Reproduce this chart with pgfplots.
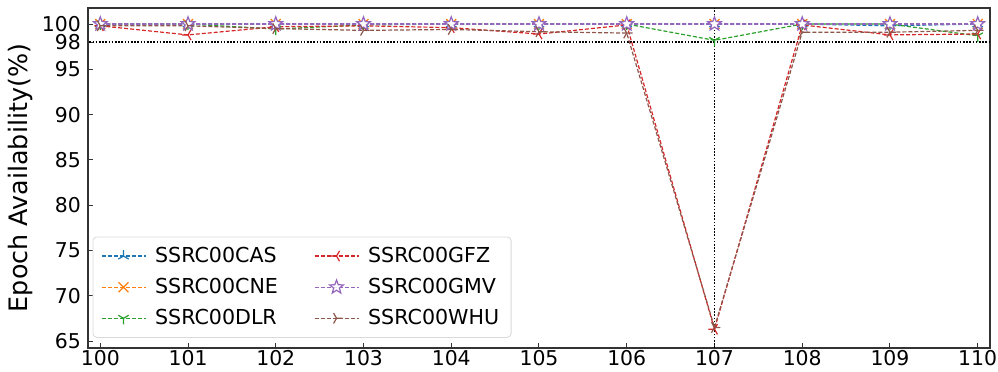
\documentclass[border=0pt]{standalone}
\usepackage{fontspec}
\setmainfont{DejaVu Sans}
\usepackage{pgfplots}
\pgfplotsset{compat=1.18}
\usetikzlibrary{plotmarks}
\definecolor{c0}{HTML}{1F77B4}
\definecolor{c1}{HTML}{FF7F0E}
\definecolor{c2}{HTML}{2CA02C}
\definecolor{c3}{HTML}{D62728}
\definecolor{c4}{HTML}{9467BD}
\definecolor{c5}{HTML}{8C564B}
\pgfdeclareplotmark{ostar}{%
 \pgfpathmoveto{\pgfpointpolar{90}{\pgfplotmarksize}}%
 \pgfpathlineto{\pgfpointpolar{126}{0.42\pgfplotmarksize}}%
 \pgfpathlineto{\pgfpointpolar{162}{\pgfplotmarksize}}%
 \pgfpathlineto{\pgfpointpolar{198}{0.42\pgfplotmarksize}}%
 \pgfpathlineto{\pgfpointpolar{234}{\pgfplotmarksize}}%
 \pgfpathlineto{\pgfpointpolar{270}{0.42\pgfplotmarksize}}%
 \pgfpathlineto{\pgfpointpolar{306}{\pgfplotmarksize}}%
 \pgfpathlineto{\pgfpointpolar{342}{0.42\pgfplotmarksize}}%
 \pgfpathlineto{\pgfpointpolar{18}{\pgfplotmarksize}}%
 \pgfpathlineto{\pgfpointpolar{54}{0.42\pgfplotmarksize}}%
 \pgfpathclose\pgfusepathqfillstroke}
\begin{document}
\begin{tikzpicture}
\begin{axis}[
  at={(0,0)}, anchor=south west,
  scale only axis, width=451pt, height=170pt,
  xmin=99.86, xmax=110.14, ymin=64.23, ymax=101.77,
  xtick={100,101,...,110},
  ytick={65,70,75,80,85,90,95,98,100},
  tick pos=left, tick align=inside,
  major tick length=2.5pt,
  /pgf/number format/assume math mode=true,
  tick label style={font=\fontsize{10.2}{12}\selectfont},
  xticklabel style={inner sep=0.5pt, yshift=-0.5pt},
  axis line style={black!80, line width=0.6pt},
  every tick/.style={black!80, line width=0.5pt},
  ylabel={Epoch Availability(\%)},
  ylabel style={font=\fontsize{12.7}{14}\selectfont, at={(axis description cs:-0.0754,0.5)}, anchor=center},
  legend style={at={(0.005,0.03)}, anchor=south west, legend columns=3,
    font=\fontsize{10.3}{14}\selectfont, draw=black!15, rounded corners=2pt,
    fill=white, fill opacity=0.8, text opacity=1, draw opacity=1, inner xsep=4pt, inner ysep=3pt,
    row sep=2.4pt,
    /tikz/every odd column/.append style={column sep=2.5pt},
    /tikz/every even column/.append style={column sep=16pt}},
  transpose legend,
  legend cell align=left,
  legend image code/.code={\draw[mark repeat=2,mark phase=2,#1] plot coordinates {(0pt,0pt)(11pt,0pt)(22pt,0pt)};},
  every axis plot/.append style={line width=0.6pt, dash pattern=on 2pt off 1pt},
]
\addplot[black, line width=0.7pt, dash pattern=on 0.8pt off 0.8pt, forget plot] coordinates {(99,98)(111,98)};
\addplot[black, line width=0.7pt, dash pattern=on 0.8pt off 0.8pt, forget plot] coordinates {(107,60)(107,105)};
\addplot[c0, mark=Mercedes star, mark size=3pt, mark options={solid}] coordinates {
(100,100)(101,100)(102,100)(103,100)(104,100)(105,100)(106,100)(107,100)(108,100)(109,99.8)(110,100)};
\addlegendentry{SSRC00CAS}
\addplot[c1, mark=x, mark size=3.5pt, mark options={solid}] coordinates {
(100,100)(101,100)(102,100)(103,100)(104,100)(105,100)(106,100)(107,100)(108,100)(109,100)(110,100)};
\addlegendentry{SSRC00CNE}
\addplot[c2, mark=Mercedes star flipped, mark size=3pt, mark options={solid}] coordinates {
(100,100)(101,100)(102,99.45)(103,99.9)(104,100)(105,100)(106,100)(107,98.2)(108,100)(109,100)(110,98.7)};
\addlegendentry{SSRC00DLR}
\addplot[c3, mark=Mercedes star, mark size=3pt, mark options={solid, rotate=90}] coordinates {
(100,99.8)(101,98.8)(102,99.7)(103,99.8)(104,99.6)(105,98.9)(106,99.9)(107,66.3)(108,99.9)(109,98.8)(110,98.9)};
\addlegendentry{SSRC00GFZ}
\addplot[c4, mark=ostar, mark size=3.6pt, mark options={solid, fill=white}] coordinates {
(100,100)(101,100)(102,100)(103,100)(104,100)(105,100)(106,100)(107,100)(108,100)(109,100)(110,100)};
\addlegendentry{SSRC00GMV}
\addplot[c5, mark=Mercedes star, mark size=3pt, mark options={solid, rotate=-90}] coordinates {
(100,99.8)(101,99.8)(102,99.5)(103,99.3)(104,99.4)(105,99.15)(106,99.0)(107,66.5)(108,99.1)(109,99.1)(110,99.3)};
\addlegendentry{SSRC00WHU}
\end{axis}
\pgfresetboundingbox
\useasboundingbox (-44pt,-11.5pt) rectangle (455pt,174pt);
\end{tikzpicture}
\end{document}
